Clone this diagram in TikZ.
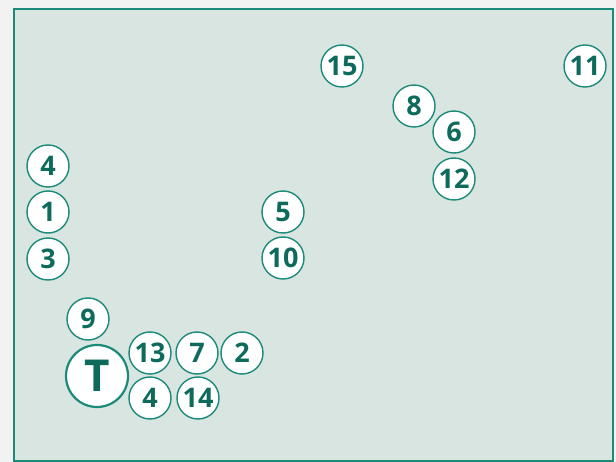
\documentclass[tikz,border=0pt]{standalone}
\usepackage{fontspec}
\setmainfont{Open Sans}
\definecolor{paneltint}{HTML}{D8E5E0}
\definecolor{teal}{HTML}{1B8A78}
\definecolor{darkteal}{HTML}{0E6B5C}
\definecolor{outside}{HTML}{F2F2F2}
\begin{document}
\begin{tikzpicture}[x=1pt, y=-1pt,
    num/.style={circle, draw=teal, line width=1.4pt, fill=white, minimum size=42pt,
        inner sep=0pt, text=darkteal, font=\fontsize{27}{27}\selectfont\bfseries},
    bignum/.style={num, line width=2.2pt, minimum size=62pt, font=\fontsize{44}{44}\selectfont\bfseries}]
    \useasboundingbox (0,0) rectangle (616,462);
    \fill[outside] (0,0) rectangle (616,462);
    \filldraw[fill=paneltint, draw=teal, line width=2pt] (14,9) rectangle (613,461);

    % top group
    \node[num] (n15) at (342,66) {15};
    \node[num] (n11) at (585,66) {11};
    \node[num] (n8) at (414,106) {8};
    \node[num] (n6) at (454,132) {6};
    \node[num] (n12) at (454,179) {12};

    % left column
    \node[num] (n4a) at (48,166) {4};
    \node[num] (n1) at (48,212) {1};
    \node[num] (n3) at (48,259) {3};

    % middle
    \node[num] (n5) at (283,212) {5};
    \node[num] (n10) at (283,258) {10};

    % cluster round T
    \node[num] (n9) at (88,319) {9};
    \node[bignum] (nT) at (97,376) {T};
    \node[num] (n13) at (150,353) {13};
    \node[num] (n7) at (197,353) {7};
    \node[num] (n2) at (242,353) {2};
    \node[num] (n4b) at (150,398) {4};
    \node[num] (n14) at (198,398) {14};
\end{tikzpicture}
\end{document}
